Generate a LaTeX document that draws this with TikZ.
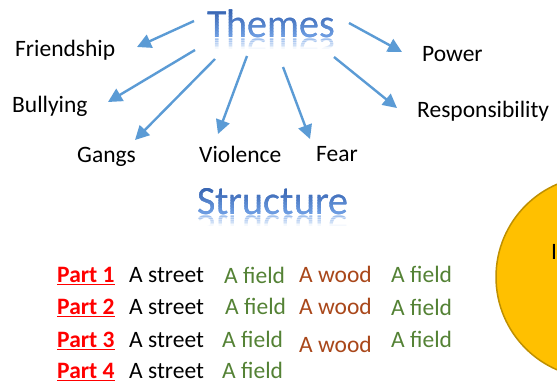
\documentclass[tikz,border=0pt]{standalone}
\usepackage{fontspec}
\setmainfont{Carlito}
\usetikzlibrary{arrows.meta,calc}

\definecolor{arrowblue}{HTML}{5B9BD5}
\definecolor{titletop}{HTML}{3460AD}
\definecolor{titlebot}{HTML}{72A2E6}
\definecolor{fieldgreen}{HTML}{548235}
\definecolor{woodbrown}{HTML}{A9471A}
\definecolor{sunfill}{HTML}{FFC000}
\definecolor{sunedge}{HTML}{BF9000}

\tikzset{
  word/.style={anchor=base west, inner sep=0pt, font=\fontsize{23.5}{28}\selectfont},
  titletext/.style={anchor=base west, inner sep=0pt, font=\fontsize{40}{48}\selectfont},
  partlabel/.style={word, font=\fontsize{23.5}{28}\selectfont\bfseries, text=red},
  fieldword/.style={word, text=fieldgreen},
  woodword/.style={word, text=woodbrown},
  themearrow/.style={draw=arrowblue, line width=2.4pt, -{Triangle[length=14pt,width=14pt]}},
  underrule/.style={draw=red, line width=1.8pt},
}

% Heading with a vertical colour gradient and a fading reflection
% #1 name, #2 x, #3 baseline, #4 top of the gradient, #5 text
\newcommand\shadedtitle[5]{%
  \node[titletext, text=titlebot] (#1) at (#2,#3) {#5};
  \foreach \k in {0,...,9}{%
    \pgfmathsetmacro\ya{#4+(#3-#4)*\k/10}%
    \pgfmathsetmacro\yb{#4+(#3-#4)*(\k+1)/10+0.4}%
    \pgfmathtruncatemacro\mix{100-\k*10}%
    \begin{scope}
      \clip (#2-10,\ya) rectangle (#2+200,\yb);
      \node[titletext, text=titletop!\mix!titlebot] at (#2,#3) {#5};
    \end{scope}
  }%
  \foreach \k in {0,...,5}{%
    \pgfmathsetmacro\op{0.45-\k*0.075}%
    \begin{scope}
      \clip (#2-10,#3+0.6+\k*1.8) rectangle (#2+200,#3+0.6+\k*1.8+2.0);
      \node[titletext, text=titlebot, opacity=\op] at (#2,#3+1) {\scalebox{1}[-1]{#5}};
    \end{scope}
  }%
}

\begin{document}
\begin{tikzpicture}[x=1pt,y=-1pt]
  \path[fill=white] (0,0) rectangle (557,389);
  \useasboundingbox (0,0) rectangle (557,389);
  \clip (0,0) rectangle (557,389);

  % sun-coloured disc at the right edge
  \node[circle, minimum size=202pt, inner sep=0pt, fill=sunfill, draw=sunedge, line width=1.5pt] (disc) at (597,277) {};
  \node[word] (discword) at (551,259) {I};

  % Themes
  \shadedtitle{themes}{207}{37}{7}{Themes}

  \node[word] (friendship) at (15,56) {Friendship};
  \node[word] (bullying) at (12,112) {Bullying};
  \node[word] (gangs) at (77,162) {Gangs};
  \node[word] (violence) at (199,162) {Violence};
  \node[word] (fear) at (316,161) {Fear};
  \node[word] (power) at (422,61) {Power};
  \node[word] (responsibility) at (417,117) {Responsibility};

  \coordinate (sFr) at (194,21);  \coordinate (tFr) at (137,47);
  \coordinate (sBu) at (195,50);  \coordinate (tBu) at (108,102);
  \coordinate (sGa) at (215,59);  \coordinate (tGa) at (135,140);
  \coordinate (sVi) at (247,56);  \coordinate (tVi) at (218,134);
  \coordinate (sFe) at (283,67);  \coordinate (tFe) at (310,139);
  \coordinate (sPo) at (349,23);  \coordinate (tPo) at (402,52);
  \coordinate (sRe) at (334,57);  \coordinate (tRe) at (397,108);

  \draw[themearrow] (sFr) -- (tFr);
  \draw[themearrow] (sBu) -- (tBu);
  \draw[themearrow] (sGa) -- (tGa);
  \draw[themearrow] (sVi) -- (tVi);
  \draw[themearrow] (sFe) -- (tFe);
  \draw[themearrow] (sPo) -- (tPo);
  \draw[themearrow] (sRe) -- (tRe);

  % Structure
  \shadedtitle{structure}{197}{214}{186}{Structure}

  \node[partlabel] (p1) at (57,282) {Part 1};
  \node[partlabel] (p2) at (57,314) {Part 2};
  \node[partlabel] (p3) at (57,347) {Part 3};
  \node[partlabel] (p4) at (57,378) {Part 4};
  \foreach \p in {p1,p2,p3,p4}{
    \draw[underrule] ($(\p.base west)+(0,2.5)$) -- ($(\p.base east)+(0,2.5)$);
  }

  \node[word] (st1) at (129,282) {A street};
  \node[word] (st2) at (129,314) {A street};
  \node[word] (st3) at (129,347) {A street};
  \node[word] (st4) at (129,378) {A street};

  \node[fieldword] (fa1) at (224,283) {A field};
  \node[fieldword] (fa2) at (225,314) {A field};
  \node[fieldword] (fa3) at (222,347) {A field};
  \node[fieldword] (fa4) at (222,378) {A field};

  \node[woodword] (wo1) at (299,282) {A wood};
  \node[woodword] (wo2) at (299,314) {A wood};
  \node[woodword] (wo3) at (299,352) {A wood};

  \node[fieldword] (fb1) at (391,282) {A field};
  \node[fieldword] (fb2) at (391,315) {A field};
  \node[fieldword] (fb3) at (391,347) {A field};
\end{tikzpicture}
\end{document}
